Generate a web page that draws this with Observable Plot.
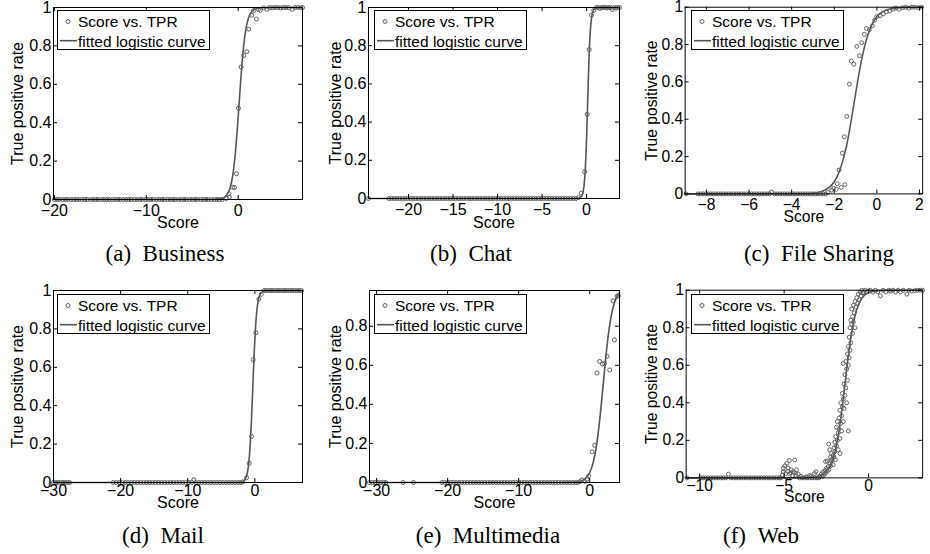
<!DOCTYPE html>
<html><head><meta charset="utf-8">
<script src="https://cdn.jsdelivr.net/npm/d3@7"></script>
<script src="https://cdn.jsdelivr.net/npm/@observablehq/plot@0.6"></script>
<style>
body{margin:0;background:#fff;}
#fig{position:relative;width:930px;height:554px;overflow:hidden;background:#fff;}
.panel{position:absolute;}
.cap{position:absolute;font-family:"Liberation Serif","Times New Roman",serif;font-size:23px;white-space:pre;transform:translate(-50%,-50%);color:#000;line-height:1;}
.legend{position:absolute;background:#fff;border:1px solid #000;box-sizing:border-box;}
</style></head>
<body><div id="fig"></div>
<script>
// ---------- data ----------
const yTicks = [0, 0.2, 0.4, 0.6, 0.8, 1];
const yTicksE = [0, 0.2, 0.4, 0.6, 0.8];
const legendLabels = ["Score vs. TPR", "fitted logistic curve"];
const xLabel = "Score";
const yLabel = "True positive rate";
const captions = ["(a)\u2002Business", "(b)\u2002Chat", "(c)\u2002File Sharing", "(d)\u2002Mail", "(e)\u2002Multimedia", "(f)\u2002Web"];

const xTicksA = [-20, -10, 0];
const xTicksB = [-20, -15, -10, -5, 0];
const xTicksC = [-8, -6, -4, -2, 0, 2];
const xTicksD = [-30, -20, -10, 0];
const xTicksE = [-30, -20, -10, 0];
const xTicksF = [-10, -5, 0];

// scores whose true positive rate is 0
const zeroA = [-20,-19.7,-19.45,-19.1,-18.8,-18.55,-18.2,-17.9,-17.6,-17.35,-17,-16.7,-16.45,-16.1,-15.8,-15.5,-15.25,-14.9,-14.6,-14.3,-14.05,-13.7,-13.4,-13.1,-12.85,-12.5,-12.2,-11.9,-11.65,-11.3,-11,-10.7,-10.45,-10.1,-9.8,-9.5,-9.25,-8.9,-8.6,-8.3,-8.05,-7.7,-7.4,-7.1,-6.85,-6.5,-6.2,-5.9,-5.65,-5.3,-5,-4.7,-4.45,-4.1,-3.8,-3.5,-3.25,-2.9,-2.6,-2.3,-2.05,-1.75];
const zeroB = [-24.5,-22.2,-21.9,-21.6,-21.3,-21,-20.7,-20.4,-20.1,-19.8,-19.5,-19.2,-18.9,-18.6,-18.3,-18,-17.7,-17.4,-17.1,-16.8,-16.5,-16.2,-15.9,-15.6,-15.3,-15,-14.7,-14.4,-14.1,-13.8,-13.5,-13.2,-12.9,-12.6,-12.3,-12,-11.7,-11.4,-11.1,-10.8,-10.5,-10.2,-9.9,-9.6,-9.3,-9,-8.7,-8.4,-8.1,-7.8,-7.5,-7.2,-6.9,-6.6,-6.3,-6,-5.7,-5.4,-5.1,-4.8,-4.5,-4.2,-3.9,-3.6,-3.3,-3,-2.7,-2.4,-2.1,-1.8,-1.5,-1.2];
const zeroC = [-8.95,-8.4,-8.28,-8.16,-8.04,-7.92,-7.8,-7.68,-7.56,-7.44,-7.32,-7.2,-7.08,-6.96,-6.84,-6.72,-6.6,-6.48,-6.36,-6.24,-6.12,-6,-5.88,-5.76,-5.64,-5.52,-5.4,-5.28,-5.16,-5.04,-4.8,-4.68,-4.56,-4.44,-4.32,-4.2,-4.08,-3.96,-3.84,-3.72,-3.6,-3.48,-3.36,-3.24,-3.12,-3,-2.88,-2.76,-2.64,-2.52,-2.4];
const zeroD = [-30,-29.65,-29.3,-28.95,-28.6,-28.25,-27.9,-27.6,-21.1,-20.65,-20.2,-19.75,-19.3,-18.85,-18.4,-17.95,-17.5,-17.05,-16.6,-16.15,-15.7,-15.25,-14.8,-14.35,-13.9,-13.45,-13,-12.55,-12.1,-11.65,-11.2,-10.75,-10.3,-9.85,-9.4,-8.8,-8.35,-7.9,-7.45,-7,-6.55,-6.1,-5.65,-5.2,-4.75,-4.3,-3.85,-3.4,-2.95,-2.5,-2.1];
const zeroE = [-31,-30.6,-30.2,-29.8,-29.4,-29,-28.7,-26.3,-24.8,-20.8,-20.4,-20,-19.6,-19.2,-18.8,-18.4,-18,-17.6,-17.2,-16.8,-16.4,-16,-15.6,-15.2,-14.8,-14.4,-14,-13.6,-13.2,-12.8,-12.4,-12,-11.6,-11.2,-10.8,-10.4,-10,-9.6,-9.2,-8.8,-8.4,-8,-7.6,-7.2,-6.8,-6.4,-6,-5.6,-5.2,-4.8,-4.4,-4,-3.6,-3.2,-2.8,-2.4,-2,-1.7];
const zeroF = [-10.75,-9.95,-9.8,-9.65,-9.5,-9.35,-9.2,-9.05,-8.9,-8.75,-8.6,-8.45,-8.15,-8,-7.85,-7.7,-7.55,-7.4,-7.25,-7.1,-6.95,-6.8,-6.65,-6.5,-6.35,-6.2,-6.05,-5.9,-5.75,-5.6,-5.45,-5.3,-5.2,-4.1,-3.95,-3.8,-3.65,-3.5,-3.35,-3.2,-3.05,-2.95];

// other (score, TPR) points
const ptsA = [[-1.3,0.005],[-1.0,0.03],[-0.95,0.012],[-0.6,0.064],[-0.4,0.062],[-0.18,0.134],[0.03,0.475],[0.32,0.69],[0.6,0.75],[0.94,0.77],[1.15,0.887],[1.48,0.96],[1.7,0.985],[1.98,0.94],[2.2,0.99],[2.4,0.985],[2.76,0.998],[3.13,0.99],[3.4,1],[3.7,0.998],[4.0,1],[4.3,1],[4.6,0.998],[4.9,1],[5.2,1],[5.5,0.999],[5.9,0.99],[6.2,1],[6.5,1],[6.8,0.998],[7.0,1]];
const ptsB = [[-0.9,0.005],[-0.6,0.028],[-0.22,0.14],[0.07,0.44],[0.3,0.78],[0.56,0.96],[0.8,0.985],[1.1,1.0],[1.3,1],[1.5,0.995],[1.7,1],[1.9,1],[2.1,1],[2.3,0.998],[2.5,1],[2.7,1],[2.9,0.99],[3.1,1],[3.3,0.997],[3.5,1],[3.7,1]];
const ptsC = [[-4.95,0.01],[-2.3,0.008],[-2.12,0.02],[-2.03,0.03],[-1.9,0.025],[-1.86,0.054],[-1.77,0.128],[-1.67,0.035],[-1.62,0.218],[-1.53,0.306],[-1.5,0.05],[-1.41,0.415],[-1.29,0.588],[-1.2,0.712],[-1.08,0.695],[-0.94,0.79],[-0.82,0.74],[-0.71,0.81],[-0.59,0.855],[-0.49,0.886],[-0.35,0.88],[-0.21,0.9],[-0.1,0.93],[0.0,0.95],[0.15,0.955],[0.3,0.965],[0.45,0.975],[0.6,0.98],[0.76,0.99],[0.9,0.995],[1.05,0.99],[1.2,0.997],[1.35,1],[1.5,0.995],[1.65,1],[1.8,1],[1.95,0.998],[2.1,1]];
const ptsD = [[-9.1,0.014],[-1.8,0.003],[-1.23,0.025],[-0.84,0.1],[-0.5,0.24],[-0.25,0.64],[0.15,0.78],[0.6,0.955],[0.94,0.98],[1.4,1.0],[1.7,1],[2.05,1],[2.4,1],[2.75,1],[3.1,1],[3.45,1],[3.8,1],[4.15,1],[4.5,1],[4.85,1],[5.2,1],[5.55,1],[5.9,1],[6.25,1],[6.6,1],[6.95,1]];
const ptsE = [[-1.4,0.004],[-1.07,0.013],[-0.7,0.006],[-0.4,0.015],[-0.14,0.034],[0.34,0.157],[0.7,0.19],[1.04,0.56],[1.4,0.62],[1.79,0.607],[2.1,0.61],[2.45,0.646],[2.82,0.576],[3.48,0.73],[3.3,0.93],[3.86,0.954],[4.05,0.957]];
const ptsF = [[-8.3,0.02],
 [-5.1,0.015],[-5.06,0.033],[-5.04,0.052],[-4.96,0.064],[-4.9,0.023],[-4.84,0.078],[-4.8,0.035],[-4.77,0.052],[-4.69,0.092],[-4.67,0.02],[-4.6,0.028],[-4.58,0.043],[-4.5,0.012],[-4.46,0.033],[-4.37,0.096],[-4.37,0.027],[-4.3,0.015],[-4.27,0.043],[-4.17,0.02],
 [-4,0.008],[-3.7,0.005],[-3.5,0.012],[-3.4,0.01],[-3.2,0.023],[-3.12,0.033],
 [-2.9,0.01],[-2.8,0.02],[-2.75,0.008],[-2.7,0.03],[-2.65,0.015],[-2.6,0.04],[-2.55,0.087],[-2.55,0.025],[-2.5,0.05],[-2.45,0.035],[-2.45,0.09],[-2.4,0.06],[-2.36,0.18],[-2.35,0.045],[-2.3,0.08],[-2.3,0.15],[-2.25,0.11],[-2.25,0.065],[-2.2,0.09],[-2.2,0.13],[-2.15,0.1],[-2.1,0.12],[-2.1,0.07],[-2.05,0.16],[-2.05,0.11],[-2.0,0.14],[-2.0,0.19],[-1.97,0.097],[-1.95,0.22],[-1.9,0.17],[-1.9,0.27],[-1.85,0.2],[-1.85,0.3],[-1.8,0.24],[-1.8,0.15],[-1.75,0.32],[-1.75,0.26],[-1.7,0.21],[-1.7,0.36],[-1.69,0.13],[-1.65,0.29],[-1.65,0.4],[-1.6,0.33],[-1.6,0.25],[-1.55,0.38],[-1.55,0.45],[-1.5,0.42],[-1.5,0.3],[-1.5,0.61],[-1.45,0.5],[-1.45,0.37],[-1.4,0.55],[-1.4,0.44],[-1.35,0.48],[-1.35,0.62],[-1.3,0.58],[-1.3,0.4],[-1.25,0.66],[-1.25,0.52],[-1.2,0.7],[-1.2,0.6],[-1.2,0.25],[-1.15,0.75],[-1.15,0.64],[-1.1,0.8],[-1.1,0.68],[-1.05,0.84],[-1.05,0.72],[-1.0,0.82],[-1.0,0.9],[-0.95,0.86],[-0.95,0.77],[-0.9,0.92],[-0.9,0.83],[-0.85,0.88],[-0.8,0.8],[-0.8,0.94],[-0.75,0.91],[-0.7,0.96],[-0.65,0.93],[-0.6,0.98],[-0.55,0.95],[-0.5,0.99],[-0.45,0.97],[-0.4,1.0],[-0.35,0.985],[-0.3,0.99],
 [-0.2,1],[-0.1,0.99],[0,0.995],[0.1,1],[0.25,0.99],[0.4,1],[0.54,0.991],[0.7,0.97],[0.85,1],[1.02,0.991],[1.2,1],[1.3,0.995],[1.45,1],[1.59,0.99],[1.75,1],[1.88,0.991],[2.05,1],[2.26,0.979],[2.4,1],[2.55,0.995],[2.74,0.998],[2.9,1],[3.05,1],[3.2,1]];

// fitted logistic curves
const curveA = [[-20.1,0],[-3,0.0003],[-2.4,0.0015],[-2,0.004],[-1.6,0.0085],[-1.2,0.026],[-0.9,0.057],[-0.6,0.123],[-0.3,0.246],[0,0.43],[0.3,0.636],[0.6,0.802],[0.9,0.904],[1.2,0.956],[1.6,0.985],[2,0.995],[2.6,0.999],[3.5,1],[7,1]];
const curveB = [[-24.5,0],[-1.5,0],[-1,0.0007],[-0.7,0.0048],[-0.5,0.0175],[-0.3,0.061],[-0.15,0.147],[0,0.314],[0.12,0.5],[0.25,0.7],[0.4,0.86],[0.55,0.942],[0.7,0.977],[0.9,0.994],[1.2,0.999],[3.7,1]];
const curveC = [[-9,0],[-3.5,0.001],[-3,0.004],[-2.6,0.013],[-2.3,0.029],[-2,0.065],[-1.8,0.11],[-1.6,0.177],[-1.4,0.27],[-1.2,0.397],[-1.05,0.5],[-0.9,0.604],[-0.7,0.727],[-0.5,0.823],[-0.3,0.89],[0,0.95],[0.3,0.978],[0.7,0.992],[1.2,0.998],[2.15,1]];
const curveD = [[-30,0],[-3,0.0001],[-2.4,0.0005],[-2,0.002],[-1.6,0.009],[-1.3,0.027],[-1.1,0.053],[-0.9,0.103],[-0.7,0.192],[-0.5,0.327],[-0.3,0.5],[-0.1,0.673],[0.1,0.808],[0.3,0.897],[0.5,0.947],[0.8,0.981],[1.2,0.995],[1.8,0.999],[7.1,1]];
const curveE = [[-31,0],[-4,0.0001],[-3,0.0005],[-2,0.0024],[-1.5,0.005],[-1,0.011],[-0.5,0.024],[0,0.05],[0.5,0.103],[1,0.198],[1.5,0.35],[2,0.539],[2.5,0.718],[3,0.846],[3.5,0.923],[4.2,0.973]];
const curveF = [[-10.8,0],[-5,0.00001],[-4,0.0003],[-3.4,0.002],[-3,0.007],[-2.7,0.017],[-2.4,0.043],[-2.2,0.077],[-2,0.135],[-1.8,0.224],[-1.6,0.35],[-1.4,0.5],[-1.2,0.65],[-1,0.776],[-0.8,0.865],[-0.6,0.923],[-0.3,0.968],[0,0.987],[0.5,0.997],[1.2,1],[3.2,1]];

// ---------- layout ----------
const panels = [
  {zero: zeroA, pts: ptsA, curve: curveA, xTicks: xTicksA, yTicks, xDomain: [-20.1, 7], yDomain: [0, 1], L: 53, R: 302, T: 7, B: 199, xPad: 5, xLabDy: 23, yLabDx: 36, legDx: 4, legDy: 3, cap: captions[0], cx: 165, cy: 253},
  {zero: zeroB, pts: ptsB, curve: curveB, xTicks: xTicksB, yTicks, xDomain: [-24.5, 3.7], yDomain: [0, 1], L: 368, R: 619, T: 7, B: 198, xPad: 5, xLabDy: 24, yLabDx: 33, legDx: 6, legDy: 3, cap: captions[1], cx: 471, cy: 253},
  {zero: zeroC, pts: ptsC, curve: curveC, xTicks: xTicksC, yTicks, xDomain: [-9, 2.15], yDomain: [0, 1], L: 686, R: 929, T: 7, B: 198, xPad: 5, xLabDy: 24, yLabDx: 34, legDx: 5, legDy: 3, cap: captions[2], cx: 819, cy: 253},
  {zero: zeroD, pts: ptsD, curve: curveD, xTicks: xTicksD, yTicks, xDomain: [-30, 7.1], yDomain: [0, 1], L: 53, R: 302, T: 290, B: 482, xPad: 2, xLabDy: 20, yLabDx: 36, legDx: 4, legDy: 4, cap: captions[3], cx: 163, cy: 535},
  {zero: zeroE, pts: ptsE, curve: curveE, xTicks: xTicksE, yTicks: yTicksE, xDomain: [-31, 4.2], yDomain: [0, 0.983], L: 369, R: 619, T: 290, B: 482, xPad: 2, xLabDy: 20, yLabDx: 34, legDx: 5, legDy: 4, cap: captions[4], cx: 488, cy: 535},
  {zero: zeroF, pts: ptsF, curve: curveF, xTicks: xTicksF, yTicks, xDomain: [-10.8, 3.2], yDomain: [0, 1], L: 687, R: 929, T: 290, B: 482, xPad: 2, xLabDy: 20, yLabDx: 35, legDx: 4, legDy: 4, cap: captions[5], cx: 761, cy: 535}
];

const fig = d3.select("#fig");
const DOT = "#606060", LINE = "#555";
const mL = 60, mT = 12, mR = 8, mB = 40;
const SANS = "'Liberation Sans', Arial, Helvetica, sans-serif";

for (const p of panels) {
  const fw = p.R - p.L, fh = p.B - p.T;
  const allPts = p.zero.map(x => [x, 0]).concat(p.pts);
  const chart = Plot.plot({
    width: fw + mL + mR, height: fh + mT + mB,
    marginLeft: mL, marginTop: mT, marginRight: mR, marginBottom: mB,
    x: {domain: p.xDomain, label: null},
    y: {domain: p.yDomain, label: null},
    style: {fontFamily: SANS, fontSize: "16px", background: "transparent", color: "#000", overflow: "visible"},
    marks: [
      Plot.line(p.curve, {x: d => d[0], y: d => d[1], stroke: LINE, strokeWidth: 1.6, curve: "monotone-x"}),
      Plot.dot(allPts, {x: d => d[0], y: d => d[1], r: 2, stroke: DOT, strokeWidth: 1, fill: "none"}),
      Plot.ruleX(p.xTicks, {x: d => d, insetTop: fh - 4, stroke: "#000"}),
      Plot.ruleX(p.xTicks, {x: d => d, insetBottom: fh - 4, stroke: "#000"}),
      Plot.ruleY(p.yTicks, {y: d => d, insetRight: fw - 4, stroke: "#000"}),
      Plot.ruleY(p.yTicks, {y: d => d, insetLeft: fw - 4, stroke: "#000"}),
      Plot.axisX({ticks: p.xTicks, tickSize: 0, tickPadding: p.xPad, label: null, fill: "#000"}),
      Plot.axisY({ticks: p.yTicks, tickSize: 0, tickPadding: 2, tickFormat: d3.format("~g"), label: null, fill: "#000"}),
      Plot.text([xLabel], {text: d => d, frameAnchor: "bottom", dy: p.xLabDy, textAnchor: "middle", lineAnchor: "middle", fill: "#000"}),
      Plot.text([yLabel], {text: d => d, frameAnchor: "left", dx: -p.yLabDx, rotate: -90, textAnchor: "middle", lineAnchor: "middle", fill: "#000"}),
      Plot.frame({stroke: "#000", strokeWidth: 1})
    ]
  });
  fig.append("div").attr("class", "panel")
    .style("left", (p.L - mL) + "px").style("top", (p.T - mT) + "px")
    .node().appendChild(chart);

  // legend box
  const lg = fig.append("div").attr("class", "legend")
    .style("left", (p.L + p.legDx) + "px").style("top", (p.T + p.legDy) + "px")
    .style("width", "153px").style("height", "40px");
  const s = lg.append("svg").attr("width", 151).attr("height", 38)
    .style("position", "absolute").style("left", "0").style("top", "0")
    .style("font-family", SANS).style("font-size", "15.5px");
  s.append("circle").attr("cx", 10).attr("cy", 10.5).attr("r", 2).attr("fill", "none").attr("stroke", DOT).attr("stroke-width", 1);
  s.append("text").attr("x", 20).attr("y", 16.3).text(legendLabels[0]);
  s.append("line").attr("x1", 2).attr("x2", 19).attr("y1", 29.7).attr("y2", 29.7).attr("stroke", LINE).attr("stroke-width", 1.6);
  s.append("text").attr("x", 20).attr("y", 35.7).text(legendLabels[1]);

  fig.append("div").attr("class", "cap").style("left", p.cx + "px").style("top", p.cy + "px").text(p.cap);
}
</script>
</body></html>
